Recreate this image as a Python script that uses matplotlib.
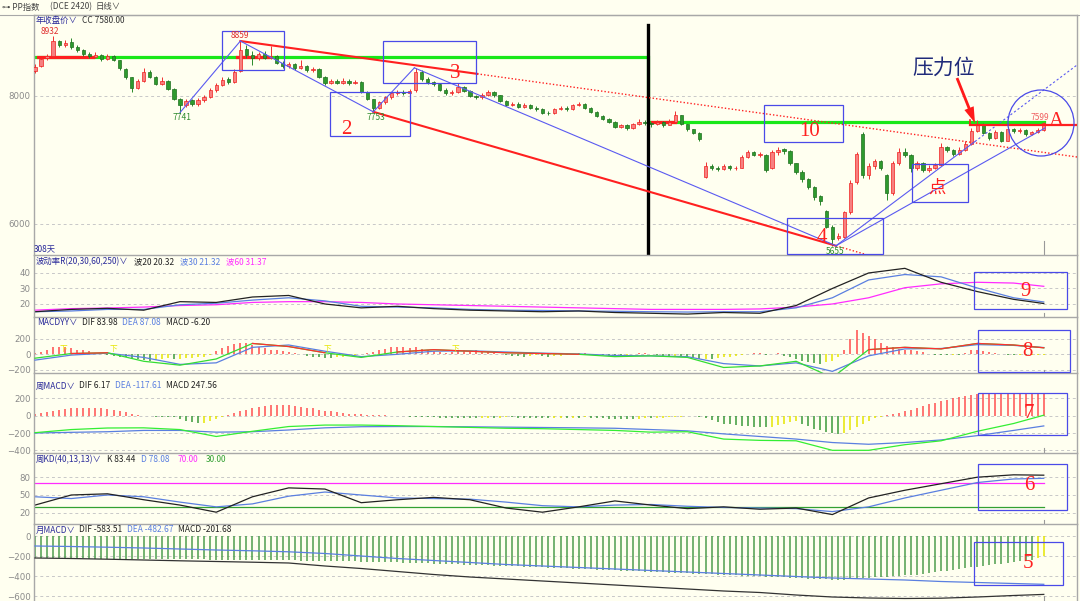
import numpy as np
import matplotlib
matplotlib.use("Agg")
import matplotlib.pyplot as plt
from matplotlib.patches import Rectangle, Circle, FancyArrow

plt.rcParams['font.family'] = ['Noto Sans CJK SC', 'DejaVu Sans']

# ---------------- data: daily candles (PP index) ----------------
OPEN = [
    8390, 8470, 8590, 8630, 8860, 8790, 8840, 8770, 8720, 8660, 8610, 8640,
    8580, 8620, 8560, 8420, 8290, 8130, 8240, 8380, 8300, 8190, 8240, 8110,
    7950, 7860, 7930, 7880, 7940, 7990, 8090, 8170, 8260, 8220, 8390, 8740,
    8640, 8590, 8660, 8600, 8620, 8520, 8470, 8500, 8440, 8470, 8400, 8420,
    8300, 8200, 8230, 8210, 8240, 8200, 8220, 8060, 7950, 7820, 7900, 7980,
    8040, 8060, 8040, 8090, 8380, 8260, 8220, 8180, 8100, 8040, 8060, 8140,
    8080, 8000, 7980, 8020, 8060, 8010, 7920, 7860, 7880, 7830, 7860, 7820,
    7800, 7740, 7730, 7800, 7820, 7790, 7860, 7880, 7820, 7750, 7690, 7640,
    7600, 7520, 7540, 7500, 7560, 7600, 7580, 7560, 7590, 7550, 7600, 7700,
    7560, 7480, 7420, 6740, 6900, 6880, 6860, 6900, 6870, 6880, 7050, 7120,
    7080, 7080, 6880, 7120, 7170, 7140, 6950, 6820, 6700, 6580, 6440, 6200,
    5960, 5780, 5800, 6190, 6650, 7400, 6760, 6900, 6980, 6760, 6480, 6950,
    7120, 7080, 6880, 6950, 6850, 6880, 6920, 7200, 7150, 7100, 7160, 7250,
    7450, 7560, 7420, 7350, 7440, 7300, 7480, 7450, 7470, 7400, 7430, 7470,
]
HIGH = [
    8500, 8600, 8650, 8932, 8880, 8870, 8900, 8790, 8730, 8690, 8680, 8660,
    8650, 8640, 8570, 8440, 8300, 8270, 8440, 8400, 8310, 8290, 8250, 8120,
    7970, 7950, 7950, 7970, 8020, 8120, 8200, 8290, 8290, 8420, 8859, 8800,
    8700, 8690, 8700, 8780, 8640, 8540, 8530, 8520, 8560, 8480, 8450, 8430,
    8310, 8270, 8260, 8280, 8260, 8250, 8230, 8080, 7960, 7920, 8000, 8070,
    8090, 8090, 8110, 8440, 8400, 8290, 8240, 8200, 8120, 8090, 8200, 8160,
    8100, 8020, 8050, 8090, 8080, 8020, 7940, 7910, 7900, 7890, 7880, 7840,
    7810, 7760, 7820, 7850, 7840, 7880, 7910, 7890, 7830, 7760, 7700, 7660,
    7610, 7570, 7560, 7580, 7640, 7620, 7600, 7620, 7610, 7640, 7760, 7710,
    7570, 7490, 7430, 6970, 6930, 6910, 6930, 6920, 6910, 7080, 7160, 7140,
    7130, 7090, 7150, 7200, 7190, 7150, 6960, 6840, 6720, 6600, 6460, 6220,
    5980, 5860, 6210, 6680, 7120, 7430, 6960, 7020, 7000, 6780, 6990, 7180,
    7190, 7100, 6980, 6970, 6920, 6950, 7270, 7220, 7170, 7200, 7300, 7500,
    7620, 7580, 7440, 7470, 7460, 7520, 7500, 7500, 7480, 7460, 7500, 7599,
]
LOW = [
    8360, 8450, 8560, 8610, 8760, 8770, 8740, 8690, 8630, 8590, 8590, 8550,
    8560, 8540, 8410, 8270, 8060, 8110, 8220, 8280, 8170, 8170, 8090, 7930,
    7741, 7830, 7840, 7850, 7910, 7970, 8060, 8150, 8190, 8200, 8370, 8600,
    8480, 8570, 8580, 8580, 8500, 8440, 8440, 8410, 8420, 8380, 8380, 8280,
    8170, 8180, 8180, 8190, 8170, 8180, 8040, 7930, 7753, 7800, 7880, 7960,
    8010, 8010, 8020, 8070, 8240, 8190, 8160, 8080, 8010, 8020, 8040, 8060,
    7980, 7950, 7960, 8000, 7990, 7900, 7840, 7840, 7810, 7810, 7800, 7770,
    7720, 7700, 7720, 7780, 7770, 7780, 7850, 7800, 7730, 7670, 7620, 7580,
    7500, 7500, 7470, 7490, 7540, 7550, 7520, 7540, 7520, 7540, 7590, 7540,
    7460, 7400, 7300, 6720, 6850, 6830, 6840, 6840, 6850, 6870, 7030, 7060,
    7050, 6820, 6860, 7080, 7100, 6920, 6780, 6650, 6550, 6380, 6300, 5940,
    5655, 5750, 5780, 6160, 6620, 6720, 6700, 6860, 6850, 6370, 6460, 6920,
    7050, 6810, 6840, 6810, 6820, 6860, 6900, 7120, 7060, 7080, 7140, 7230,
    7430, 7400, 7320, 7330, 7280, 7290, 7420, 7420, 7380, 7390, 7420, 7460,
]
CLOSE = [
    8460, 8580, 8620, 8860, 8800, 8830, 8760, 8720, 8660, 8620, 8640, 8580,
    8620, 8560, 8430, 8290, 8120, 8240, 8380, 8300, 8190, 8240, 8110, 7960,
    7860, 7920, 7880, 7940, 7990, 8090, 8170, 8250, 8220, 8380, 8720, 8640,
    8590, 8660, 8600, 8620, 8520, 8470, 8500, 8440, 8470, 8400, 8420, 8300,
    8200, 8230, 8210, 8240, 8200, 8220, 8060, 7950, 7820, 7900, 7980, 8040,
    8060, 8040, 8080, 8380, 8260, 8220, 8180, 8100, 8040, 8060, 8140, 8080,
    8000, 7980, 8020, 8060, 8010, 7920, 7860, 7880, 7830, 7860, 7820, 7800,
    7740, 7730, 7800, 7820, 7790, 7860, 7880, 7820, 7750, 7690, 7640, 7600,
    7520, 7540, 7500, 7560, 7600, 7580, 7560, 7590, 7550, 7600, 7700, 7560,
    7480, 7420, 7330, 6900, 6880, 6860, 6900, 6870, 6880, 7050, 7120, 7080,
    7100, 6850, 7120, 7160, 7140, 6950, 6820, 6700, 6580, 6420, 6360, 5960,
    5760, 5820, 6190, 6640, 7100, 6760, 6900, 6980, 6880, 6480, 6950, 7120,
    7080, 6880, 6950, 6850, 6880, 6920, 7200, 7150, 7100, 7160, 7250, 7450,
    7560, 7420, 7350, 7440, 7300, 7480, 7450, 7470, 7400, 7430, 7470, 7580,
]
YEAR_CLOSE_PREV = 8609     # green level, previous year close
YEAR_CLOSE_CUR = 7590      # green level, current year
CONTRACT_SPLIT = 101.5     # black vertical separator (candle index)

# ---------------- indicator lines (sampled at candle indices) ----------------
LINE_X = [0, 6, 12, 18, 24, 30, 36, 42, 48, 54, 60, 66, 72, 78, 84, 90, 96,
          102, 108, 114, 120, 126, 132, 138, 144, 150, 156, 162, 167]
VOL20 = [15.0, 16.5, 17.2, 16.0, 21.5, 21.0, 24.5, 25.5, 20.0, 17.5, 18.5, 17.0,
         16.0, 15.5, 15.0, 15.5, 14.5, 14.0, 13.5, 14.5, 14.0, 19.0, 30.0, 40.0,
         43.0, 34.0, 28.0, 23.0, 20.3]
VOL30 = [15.0, 15.5, 16.5, 16.5, 19.5, 20.5, 22.5, 24.0, 22.0, 18.5, 18.0, 17.5,
         16.5, 16.0, 15.8, 15.5, 15.3, 15.0, 14.8, 15.0, 15.0, 17.5, 24.0, 35.5,
         39.0, 37.5, 30.3, 24.0, 21.3]
VOL60 = [16.0, 17.0, 17.4, 18.0, 19.0, 19.5, 21.0, 21.5, 21.5, 21.0, 20.0, 19.5,
         19.0, 18.5, 18.0, 17.5, 17.0, 16.5, 16.5, 16.5, 16.8, 18.0, 20.0, 24.0,
         30.5, 33.0, 34.0, 33.5, 31.4]
YY_DIF = [-50, 10, 20, -90, -140, -60, 140, 100, 20, -40, 30, 60, 40, 20, 10, 0,
          -30, -20, -40, -170, -150, -90, -300, 60, 90, 70, 140, 120, 84]
YY_DEA = [-75, -10, 15, -40, -130, -110, 90, 120, 40, -30, 0, 40, 45, 30, 15, 5,
          -15, -20, -30, -120, -150, -110, -220, -20, 70, 75, 125, 115, 87]
WK_DIF = [-196, -160, -142, -140, -160, -240, -180, -125, -108, -108, -115, -125,
          -135, -145, -150, -160, -170, -190, -185, -270, -285, -290, -400, -400,
          -335, -290, -180, -90, 6]
WK_DEA = [-200, -192, -185, -170, -170, -190, -185, -165, -140, -127, -125, -125,
          -128, -132, -136, -140, -145, -160, -175, -210, -240, -270, -310, -330,
          -310, -280, -230, -170, -118]
KD_K = [33, 50, 52, 42, 33, 21, 47, 62, 60, 37, 42, 46, 42, 28, 21, 30, 40, 33,
        27, 30, 26, 28, 17, 45, 58, 69, 80, 84, 83.4]
KD_D = [47, 44, 50, 47, 38, 30, 35, 48, 55, 50, 45, 44, 43, 38, 32, 30, 33, 34,
        31, 29, 28, 27, 22, 30, 45, 58, 71, 77, 78.1]
KD_HIGH, KD_LOW = 70, 30
MO_DIF = [-220, -225, -232, -240, -248, -255, -262, -270, -300, -325, -355, -385,
          -410, -430, -450, -470, -490, -510, -530, -550, -565, -590, -610, -620,
          -625, -622, -610, -595, -584]
MO_DEA = [-100, -105, -112, -120, -130, -140, -148, -158, -175, -200, -225, -245,
          -265, -285, -300, -315, -330, -345, -360, -375, -390, -405, -420, -430,
          -440, -455, -465, -475, -483]

# ---------------- histograms (one bar per candle) ----------------
YY_HIST = [
    20, 30, 60, 90, 100, 95, 80, 60, 50, 40, 20, 10,
    -10, -20, -30, -40, -50, -60, -70, -80, -70, -60, -50, -60,
    -55, -50, -45, -40, -30, -10, 40, 80, 110, 130, 150, 140,
    120, 100, 80, 60, 50, 40, 30, 20, 10, -20, -30, -40,
    -45, -50, -40, -30, -20, -10, 10, 20, 30, 50, 70, 90,
    100, 90, 80, 90, 70, 60, 40, 30, 20, 30, 40, 50,
    40, 50, 40, 30, 20, 10, -10, -20, -20, -30, -20, -15,
    -20, -30, -25, -20, -10, 10, 20, 15, 10, 5, -10, -20,
    -20, -30, -25, 10, 20, 15, 5, -10, -20, -30, -25, -30,
    -40, -50, -60, -55, -60, -50, -40, -30, -20, -10, 10, 20,
    15, -10, 10, 20, -20, -40, -60, -80, -100, -110, -120, -100,
    -80, -40, 60, 200, 310, 280, 240, 200, 150, 110, 90, 70,
    60, 50, 40, 30, 10, -10, -10, -15, -10, -10, 20, 60,
    60, 40, 30, 20, 10, -10, -15, -10, -15, -10, -8, -6,
]
WK_HIST = [
    20, 30, 40, 60, 70, 80, 85, 90, 90, 90, 85, 85,
    80, 70, 60, 40, 20, 5, -5, -5, -10, -10, -15, -20,
    -40, -60, -75, -85, -80, -60, -40, -20, 10, 30, 50, 70,
    90, 105, 115, 120, 125, 125, 120, 115, 105, 95, 85, 70,
    60, 50, 40, 30, 25, 20, 15, 10, 8, 5, 3, 2,
    -5, -8, -10, -12, -15, -18, -20, -22, -25, -25, -28, -30,
    -30, -30, -28, -25, -25, -22, -20, -20, -22, -25, -28, -30,
    -30, -30, -28, -25, -25, -22, -22, -20, -25, -30, -32, -35,
    -35, -35, -38, -38, -35, -30, -30, -28, -25, -20, -15, -10,
    -8, -5, -10, -30, -50, -70, -90, -100, -110, -115, -120, -125,
    -130, -135, -130, -110, -90, -70, -60, -90, -120, -150, -170, -190,
    -200, -210, -200, -170, -130, -90, -60, -30, -10, 10, 20, 30,
    50, 70, 90, 110, 130, 150, 170, 180, 200, 215, 230, 245,
    255, 260, 262, 264, 265, 265, 262, 260, 258, 255, 250, 248,
]
MO_HIST = [
    -220, -221, -221, -222, -222, -223, -223, -224, -224, -225, -225, -226,
    -226, -227, -227, -228, -228, -229, -229, -230, -230, -231, -231, -232,
    -232, -233, -233, -234, -234, -235, -235, -236, -236, -237, -237, -238,
    -239, -240, -240, -241, -242, -242, -243, -244, -245, -245, -246, -247,
    -248, -249, -250, -252, -253, -254, -255, -256, -258, -259, -260, -262,
    -264, -266, -268, -270, -272, -274, -276, -278, -280, -282, -284, -286,
    -288, -290, -292, -294, -296, -298, -300, -302, -304, -306, -308, -310,
    -313, -315, -318, -320, -323, -325, -328, -330, -333, -335, -338, -340,
    -343, -345, -348, -350, -353, -355, -358, -360, -363, -365, -368, -370,
    -373, -375, -378, -380, -383, -385, -388, -390, -393, -395, -398, -400,
    -402, -405, -408, -410, -413, -416, -419, -422, -425, -428, -431, -434,
    -440, -438, -435, -430, -425, -420, -415, -412, -410, -406, -402, -398,
    -394, -390, -385, -378, -370, -362, -354, -346, -338, -330, -322, -314,
    -308, -300, -292, -284, -276, -268, -260, -252, -245, -240, -215, -202,
]
MO_YELLOW_FROM = 166

# ---------------- layout / style ----------------
BG = '#fffff0'
W, HP = 1080, 601
LEFT, RIGHT = 33.5, 1077
XLIM = (-0.25, 172.5)
GRID = '#c8c8c8'
SEP = '#a8a8a8'
TICK = '#8a8a8a'
NAVY = '#2a2a9a'
BLUE_L = '#5a7fe0'
MAG = '#ff2cff'
RED = '#ff2020'
GREEN_C = '#2a8a2a'
BOXC = '#4a4ae8'
TS = 6.0   # title font size

fig = plt.figure(figsize=(W / 100, HP / 100), dpi=100, facecolor=BG)


def panel(top, bottom, ylim, yticks):
    ax = fig.add_axes([LEFT / W, 1 - bottom / HP, (RIGHT - LEFT) / W, (bottom - top) / HP])
    ax.set_facecolor(BG)
    ax.set_xlim(*XLIM)
    ax.set_ylim(*ylim)
    ax.set_xticks([])
    ax.set_yticks(yticks)
    ax.tick_params(axis='y', length=0, pad=2, labelsize=6.2, labelcolor=TICK)
    for lab in ax.get_yticklabels():
        lab.set_family('DejaVu Sans')
    for tk in yticks:
        ax.axhline(tk, color=GRID, lw=0.7, ls=(0, (3, 3)), zorder=0)
    for s in ['left', 'top', 'right']:
        ax.spines[s].set_color(SEP)
        ax.spines[s].set_linewidth(1.0)
    ax.spines['bottom'].set_visible(False)
    # day marker tick at the last candle
    ax.plot([len(CLOSE) - 1] * 2, [ylim[0], ylim[0] + (ylim[1] - ylim[0]) * 0.06],
            color='#999999', lw=0.8, zorder=1)
    return ax


N = len(CLOSE)
idx = np.arange(N)
lx = np.array(LINE_X)

# ---- main price panel ----
ax0 = panel(15, 255, (5515.6, 9265.6), [6000, 8000])
o = np.array(OPEN, float); c = np.array(CLOSE, float)
h = np.array(HIGH, float); l = np.array(LOW, float)
up = c >= o
ax0.vlines(idx[up], l[up], h[up], color='#f03030', lw=0.7, zorder=3)
ax0.vlines(idx[~up], l[~up], h[~up], color=GREEN_C, lw=0.7, zorder=3)
body_lo = np.minimum(o, c)
body_h = np.maximum(np.abs(c - o), 8)
ax0.bar(idx[up], body_h[up], bottom=body_lo[up], width=0.55, color='#f78080',
        edgecolor='#f02020', lw=0.5, zorder=4)
ax0.bar(idx[~up], body_h[~up], bottom=body_lo[~up], width=0.55, color='#2e9a2e',
        edgecolor='#1f6f1f', lw=0.5, zorder=4)

# yearly close levels
ax0.plot([XLIM[0], CONTRACT_SPLIT, CONTRACT_SPLIT, N - 1],
         [YEAR_CLOSE_PREV, YEAR_CLOSE_PREV, YEAR_CLOSE_CUR, YEAR_CLOSE_CUR],
         color='#18e818', lw=2.3, zorder=2, solid_joinstyle='miter')
for a, b, lev in [(0.5, 9.6, YEAR_CLOSE_PREV), (33.5, 38.5, YEAR_CLOSE_PREV),
                  (102.2, 106.0, YEAR_CLOSE_CUR)]:
    ax0.plot([a, b], [lev, lev], color=RED, lw=2.3, zorder=2.5)
ax0.plot([CONTRACT_SPLIT, CONTRACT_SPLIT], [9109, 5515.6], color='black', lw=2.4, zorder=6)


# trend lines (annotation geometry: index, price)
def seg(i0, p0, i1, p1, **kw):
    ax0.plot([i0, i1], [p0, p1], zorder=7, **kw)


def along(i0, p0, i1, p1, i):
    return p0 + (p1 - p0) * (i - i0) / (i1 - i0)


# upper red resistance from 8859 peak
seg(34, 8859, 73.2, along(34, 8859, 172.5, 7047, 73.2), color=RED, lw=1.5)
seg(73.2, along(34, 8859, 172.5, 7047, 73.2), 172.5, 7047, color=RED, lw=1.0, ls=(0, (1, 1.5)))
# lower red line from 7753 to 5655
seg(56, 7753, 132.6, 5660, color=RED, lw=1.5)
seg(132.6, 5660, 137.5, 5525, color=RED, lw=1.0, ls=(0, (1, 1.5)))
# blue wave lines
bl = dict(color='#5a5af0', lw=0.8)
seg(24, 7741, 34, 8859, **bl)
seg(34, 8859, 56, 7753, **bl)
seg(56, 7753, 62.8, 8440, **bl)
seg(62.8, 8440, 132.6, 5660, **bl)
seg(132.6, 5660, 167.2, 7500, **bl)
seg(132.6, 5660, 155.6, along(132.6, 5660, 172.5, 8484, 155.6), **bl)
seg(155.6, along(132.6, 5660, 172.5, 8484, 155.6), 172.5, 8484, color='#5a5af0', lw=0.8,
    ls=(0, (2, 2)))
# red "A" level
ax0.plot([154.8, 172.5], [7547, 7547], color=RED, lw=1.6, zorder=7)
ax0.plot([154.8, 154.8], [7547, 7630], color=RED, lw=1.2, zorder=7)

# ---- volatility panel ----
ax1 = panel(255, 317, (11.6, 51.6), [20, 30, 40])
ax1.plot(lx, VOL60, color=MAG, lw=0.9)
ax1.plot(lx, VOL30, color=BLUE_L, lw=0.9)
ax1.plot(lx, VOL20, color='#222222', lw=0.9)


def hist_colors(v, pos, neg, shrink):
    cols, prev = [], 0
    for x in v:
        if x >= 0:
            cols.append(pos)
        elif prev < 0 and abs(x) < abs(prev):
            cols.append(shrink)
        else:
            cols.append(neg)
        prev = x
    return cols


# ---- MACDYY panel ----
ax2 = panel(317, 373, (-241, 481), [-200, 0, 200])
yy = np.array(YY_HIST, float)
ax2.vlines(idx[:len(yy)], 0, yy, colors=hist_colors(yy, '#ff4a4a', '#3a9a3a', '#e6e600'),
           lw=1.1, zorder=2)
ax2.plot(lx, YY_DEA, color=BLUE_L, lw=0.9, zorder=3)
dif = np.array(YY_DIF, float)
ax2.plot(lx, dif, color='#33dd33', lw=0.9, zorder=3)
ax2.plot(lx, np.ma.masked_where(dif < 0, dif), color='#ff3030', lw=0.9, zorder=4)

# ---- weekly MACD panel ----
ax3 = panel(373, 453, (-431, 494), [-400, -200, 0, 200])
wk = np.array(WK_HIST, float)
ax3.vlines(idx[:len(wk)], 0, wk, colors=hist_colors(wk, '#ff5050', '#3a9a3a', '#e6e600'),
           lw=1.1, zorder=2)
ax3.plot(lx, WK_DEA, color=BLUE_L, lw=0.9, zorder=3)
ax3.plot(lx, WK_DIF, color='#33ee33', lw=0.9, zorder=3)

# ---- weekly KD panel ----
ax4 = panel(453, 524, (1.1, 120.8), [20, 50, 80])
ax4.plot([0, N - 1], [KD_HIGH, KD_HIGH], color=MAG, lw=0.9)
ax4.plot([0, N - 1], [KD_LOW, KD_LOW], color='#33a033', lw=0.9)
ax4.plot(lx, KD_D, color=BLUE_L, lw=0.9)
ax4.plot(lx, KD_K, color='#222222', lw=0.9)

# ---- monthly MACD panel ----
ax5 = panel(524, 601, (-650, 120), [-600, -400, -200, 0])
mo = np.array(MO_HIST, float)
mcols = ['#e6e600' if i >= MO_YELLOW_FROM else '#4e9e4e' for i in range(len(mo))]
ax5.vlines(idx[:len(mo)], 0, mo, colors=mcols, lw=1.1, zorder=2)
ax5.plot(lx, MO_DEA, color=BLUE_L, lw=0.9, zorder=3)
ax5.plot(lx, MO_DIF, color='#333333', lw=0.9, zorder=3)

# ---------------- overlay (pixel coordinates) for labels / drawings ----------------
ov = fig.add_axes([0, 0, 1, 1], facecolor='none')
ov.set_xlim(0, W)
ov.set_ylim(HP, 0)
ov.axis('off')
ov.plot([0, W], [14.5, 14.5], color=SEP, lw=0.8)


def t(x, y, s, color='#333333', size=TS, **kw):
    ov.text(x, y, s, color=color, fontsize=size, va='center', ha='left', **kw)


t(2, 7, '⊶ PP指数', '#444444')
t(50, 7, '(DCE 2420)', '#444444')
t(96, 7, '日线∨', '#444444')
t(36, 20.5, '年收盘价∨', NAVY)
t(82, 20.5, 'CC 7580.00')
t(34, 249, '308天', NAVY)
t(36, 262, '波动率R(20,30,60,250)∨', NAVY)
t(134, 262, '波20 20.32', '#222222')
t(180, 262, '波30 21.32', BLUE_L)
t(226, 262, '波60 31.37', MAG)
t(37, 322.5, 'MACDYY∨', NAVY)
t(82, 322.5, 'DIF 83.98', '#222222')
t(122, 322.5, 'DEA 87.08', BLUE_L)
t(166, 322.5, 'MACD -6.20', '#222222')
t(36, 386, '周MACD∨', NAVY)
t(79, 386, 'DIF 6.17', '#222222')
t(115, 386, 'DEA -117.61', BLUE_L)
t(166, 386, 'MACD 247.56', '#222222')
t(36, 459.5, '周KD(40,13,13)∨', NAVY)
t(107, 459.5, 'K 83.44', '#222222')
t(141, 459.5, 'D 78.08', BLUE_L)
t(178, 459.5, '70.00', MAG)
t(206, 459.5, '30.00', '#33a033')
t(36, 530, '月MACD∨', NAVY)
t(79, 530, 'DIF -583.51', '#222222')
t(127, 530, 'DEA -482.67', BLUE_L)
t(178, 530, 'MACD -201.68', '#222222')

# price extreme labels
for s, x, y, col in [('8932', 41, 32, '#e03030'), ('8859', 231, 36, '#e03030'),
                     ('7741', 173, 118, '#2e8b2e'), ('7753', 367, 117, '#2e8b2e'),
                     ('5655', 826, 252, '#2e8b2e'), ('7599', 1031, 117, '#f06060')]:
    t(x, y, s, col, 6.0)

for x in [63, 113, 327, 455]:
    ov.text(x, 349, '下', color='#e6e600', fontsize=5.5, ha='center', va='center')

# boxes
for x0, y0, x1, y1 in [(222, 31, 284, 70), (330, 92, 410, 136), (383, 41, 476, 83),
                       (764, 105, 843, 142), (787, 218, 883, 254), (912, 164, 968, 202),
                       (974, 272, 1067, 309), (978, 330, 1070, 372), (978, 393, 1067, 435),
                       (978, 464, 1067, 510), (974, 542, 1063, 585)]:
    ov.add_patch(Rectangle((x0, y0), x1 - x0, y1 - y0, fill=False, ec=BOXC, lw=0.9))
ov.add_patch(Circle((1041, 123), 33, fill=False, ec=BOXC, lw=0.9))

for s, x, y in [('2', 346, 130), ('3', 455, 73), ('10', 810, 131), ('4', 822, 237),
                ('9', 1026, 291), ('8', 1027, 351), ('7', 1029, 413), ('6', 1029, 485),
                ('5', 1028, 563), ('A', 1056, 122)]:
    ov.text(x, y, s, color=RED, fontsize=15, ha='center', va='center',
            family='Liberation Serif')
ov.text(937, 188, '点', color=RED, fontsize=12.5, ha='center', va='center')
ov.text(944, 68, '压力位', color='#1f2a7a', fontsize=15, ha='center', va='center')
ov.add_patch(FancyArrow(957, 78, 18, 45, width=2.8, head_width=10, head_length=16,
                        length_includes_head=True, color='#ff1a1a', lw=0))

fig.savefig('out.png', dpi=100, facecolor=BG)
